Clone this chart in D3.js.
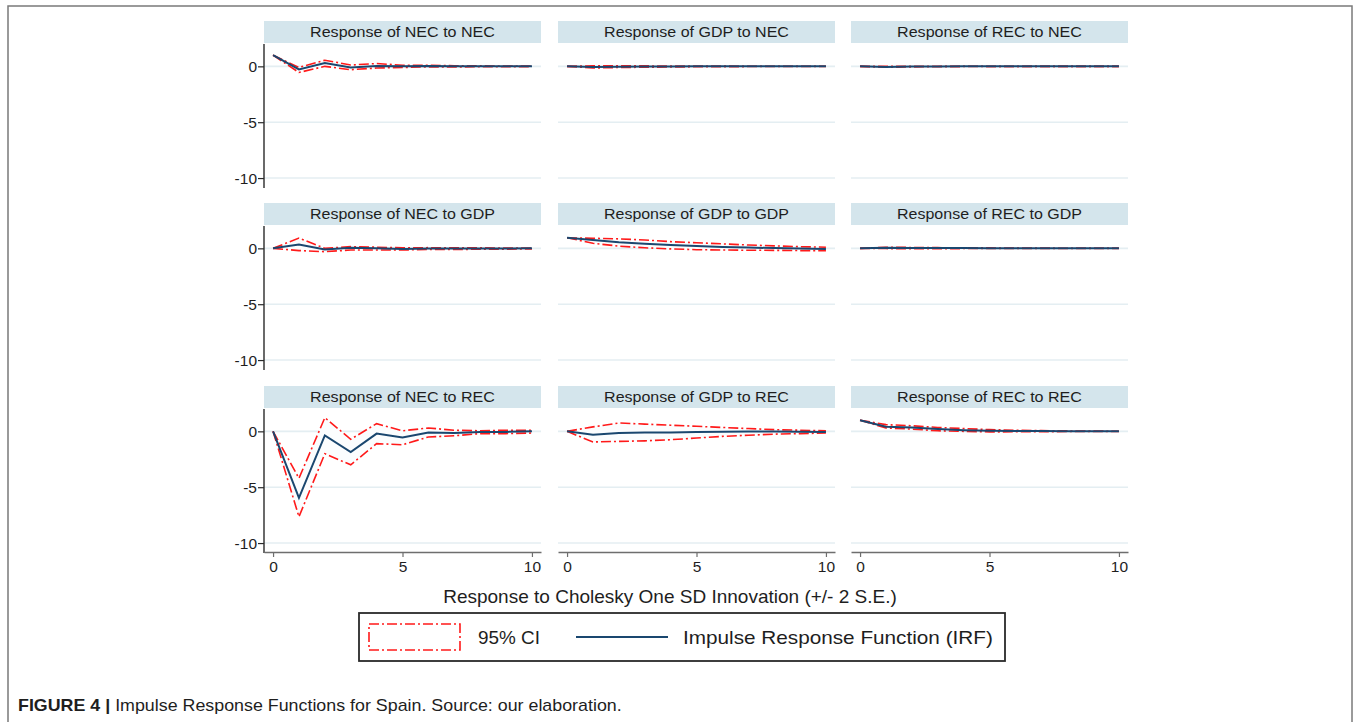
<!DOCTYPE html>
<html>
<head>
<meta charset="utf-8">
<script src="https://cdn.jsdelivr.net/npm/d3@7"></script>
<style>
  body { margin: 0; background: #fff; }
  svg { display: block; font-family: "Liberation Sans", Arial, sans-serif; }
</style>
</head>
<body>
<script>
// horizon (periods after the shock)
const periods = [0, 1, 2, 3, 4, 5, 6, 7, 8, 9, 10];
const shocks = ["NEC", "GDP", "REC"];     // rows: impulse
const responses = ["NEC", "GDP", "REC"];  // columns: response
const yTicks = [0, -5, -10];
const xTicks = [0, 5, 10];

// row 1 : shock NEC
const irfNecNec = [1.0, -0.28, 0.3, -0.1, 0.02, 0.0, 0.03, 0.0, 0.0, 0.0, 0.0];
const hiNecNec  = [1.0, -0.1, 0.55, 0.12, 0.25, 0.1, 0.1, 0.05, 0.04, 0.03, 0.02];
const loNecNec  = [1.0, -0.55, 0.0, -0.3, -0.15, -0.1, -0.05, -0.05, -0.04, -0.03, -0.02];
const irfGdpNec = [0.0, -0.05, -0.03, -0.02, -0.01, 0.0, 0.0, 0.0, 0.0, 0.0, 0.0];
const hiGdpNec  = [0.0, 0.05, 0.04, 0.04, 0.03, 0.02, 0.02, 0.01, 0.01, 0.01, 0.01];
const loGdpNec  = [0.0, -0.15, -0.1, -0.08, -0.05, -0.04, -0.03, -0.02, -0.02, -0.01, -0.01];
const irfRecNec = [0.0, -0.05, -0.02, -0.01, 0.0, 0.0, 0.0, 0.0, 0.0, 0.0, 0.0];
const hiRecNec  = [0.0, 0.0, 0.01, 0.01, 0.01, 0.0, 0.0, 0.0, 0.0, 0.0, 0.0];
const loRecNec  = [0.0, -0.08, -0.05, -0.03, -0.02, -0.01, -0.01, 0.0, 0.0, 0.0, 0.0];

// row 2 : shock GDP
const irfNecGdp = [0.0, 0.35, -0.1, 0.05, 0.0, -0.05, -0.02, -0.02, -0.01, -0.01, 0.0];
const hiNecGdp  = [0.0, 0.92, 0.0, 0.15, 0.1, 0.05, 0.06, 0.04, 0.04, 0.03, 0.03];
const loNecGdp  = [0.0, -0.2, -0.3, -0.15, -0.15, -0.15, -0.1, -0.1, -0.08, -0.07, -0.05];
const irfGdpGdp = [0.95, 0.75, 0.55, 0.42, 0.3, 0.2, 0.13, 0.07, 0.02, -0.02, -0.05];
const hiGdpGdp  = [0.95, 0.9, 0.85, 0.75, 0.6, 0.5, 0.4, 0.3, 0.22, 0.15, 0.1];
const loGdpGdp  = [0.95, 0.45, 0.2, 0.05, -0.05, -0.12, -0.15, -0.17, -0.18, -0.2, -0.2];
const irfRecGdp = [0.0, 0.05, 0.03, 0.02, 0.02, 0.01, 0.01, 0.0, 0.0, 0.0, 0.0];
const hiRecGdp  = [0.0, 0.1, 0.08, 0.06, 0.05, 0.04, 0.03, 0.02, 0.01, 0.01, 0.01];
const loRecGdp  = [0.0, -0.02, -0.03, -0.03, -0.02, -0.02, -0.01, -0.01, -0.01, 0.0, 0.0];

// row 3 : shock REC
const irfNecRec = [0.0, -5.95, -0.36, -1.85, -0.2, -0.55, -0.1, -0.15, -0.05, -0.05, 0.0];
const hiNecRec  = [0.0, -4.2, 1.22, -0.71, 0.69, 0.05, 0.3, 0.1, 0.05, 0.1, 0.1];
const loNecRec  = [0.0, -7.65, -2.0, -3.0, -1.1, -1.2, -0.5, -0.4, -0.2, -0.2, -0.15];
const irfGdpRec = [0.0, -0.3, -0.15, -0.1, -0.1, -0.05, -0.03, -0.02, -0.02, -0.03, -0.05];
const hiGdpRec  = [0.0, 0.4, 0.75, 0.65, 0.55, 0.45, 0.35, 0.25, 0.15, 0.1, 0.05];
const loGdpRec  = [0.0, -0.95, -0.9, -0.85, -0.75, -0.6, -0.45, -0.35, -0.25, -0.2, -0.15];
const irfRecRec = [1.0, 0.42, 0.35, 0.2, 0.1, 0.05, 0.03, 0.02, 0.01, 0.0, 0.0];
const hiRecRec  = [1.0, 0.6, 0.5, 0.35, 0.25, 0.15, 0.1, 0.06, 0.04, 0.02, 0.01];
const loRecRec  = [1.0, 0.3, 0.2, 0.05, 0.0, -0.05, -0.04, -0.03, -0.02, -0.02, -0.01];

const panelData = [
  [[irfNecNec, hiNecNec, loNecNec], [irfGdpNec, hiGdpNec, loGdpNec], [irfRecNec, hiRecNec, loRecNec]],
  [[irfNecGdp, hiNecGdp, loNecGdp], [irfGdpGdp, hiGdpGdp, loGdpGdp], [irfRecGdp, hiRecGdp, loRecGdp]],
  [[irfNecRec, hiNecRec, loNecRec], [irfGdpRec, hiGdpRec, loGdpRec], [irfRecRec, hiRecRec, loRecRec]]
];

const W = 1356, H = 722;
const colLeft = [264, 558, 851];
const rowTop = [44, 226, 409];   // top of each plot region (below header strip)
const panelW = 277, panelH = 143, headerH = 23;

const red = "#ff1a1a", navy = "#1a476f", gridCol = "#e4eef2";

// the source figure is a bit stretched sideways, so widen text to a target width
const fitWidth = (sel, target, anchorX) => {
  const w = sel.node().getComputedTextLength();
  const s = target / w;
  sel.attr("transform", `translate(${anchorX},0) scale(${s},1) translate(${-anchorX},0)`);
};

const svg = d3.select("body").append("svg")
  .attr("width", W)
  .attr("height", H);

// outer frame
svg.append("rect")
  .attr("x", 8).attr("y", 6)
  .attr("width", 1344).attr("height", 730)
  .attr("fill", "none")
  .attr("stroke", "#7a7a7a")
  .attr("stroke-width", 1.5);

const x = d3.scaleLinear().domain([-0.35, 10.35]).range([0, panelW]);
const y = d3.scaleLinear().domain([-10.8, 2.0]).range([panelH, 0]);

const line = d3.line().x((d, i) => x(periods[i])).y(d => y(d));
const band = d3.area()
  .x((d, i) => x(periods[i]))
  .y0(d => y(d[0]))
  .y1(d => y(d[1]));

shocks.forEach((shock, r) => {
  responses.forEach((resp, c) => {
    const [irf, hi, lo] = panelData[r][c];
    const g = svg.append("g")
      .attr("transform", `translate(${colLeft[c]},${rowTop[r]})`);

    // header strip
    g.append("rect")
      .attr("x", 0).attr("y", -headerH)
      .attr("width", panelW).attr("height", headerH - 1)
      .attr("fill", "#d4e5ec");
    const title = g.append("text")
      .attr("x", panelW / 2).attr("y", -headerH / 2 - 0.5)
      .attr("text-anchor", "middle")
      .attr("dominant-baseline", "central")
      .style("font-size", "15.5px")
      .style("fill", "#1e1e1e")
      .text(`Response of ${resp} to ${shock}`);
    fitWidth(title, 185, panelW / 2);

    // gridlines
    g.selectAll(".grid")
      .data(yTicks)
      .enter()
      .append("line")
      .attr("x1", 0).attr("x2", panelW)
      .attr("y1", d => y(d)).attr("y2", d => y(d))
      .attr("stroke", gridCol)
      .attr("stroke-width", 1.6);

    // confidence band
    g.append("path")
      .datum(lo.map((v, i) => [v, hi[i]]))
      .attr("d", band)
      .attr("fill", "#fbfdfe");

    [hi, lo].forEach(s => {
      g.append("path")
        .datum(s)
        .attr("d", line)
        .attr("fill", "none")
        .attr("stroke", red)
        .attr("stroke-width", 1.6)
        .attr("stroke-dasharray", "10,3,2,3");
    });

    g.append("path")
      .datum(irf)
      .attr("d", line)
      .attr("fill", "none")
      .attr("stroke", navy)
      .attr("stroke-width", 2);

    // y axis only on the first column
    if (c === 0) {
      const yAxis = d3.axisLeft(y).tickValues(yTicks).tickSize(6).tickFormat(d => String(d));
      const ya = g.append("g").call(yAxis);
      ya.select(".domain").remove();
      ya.append("line")
        .attr("x1", 0).attr("x2", 0)
        .attr("y1", 0).attr("y2", panelH + 1)
        .attr("stroke", "#2a2a2a").attr("stroke-width", 1.4);
      ya.selectAll(".tick line").attr("stroke", "#2a2a2a").attr("stroke-width", 1.2);
      ya.selectAll(".tick text")
        .attr("x", -7)
        .style("font-size", "15.5px")
        .style("font-family", "'Liberation Sans', Arial, sans-serif")
        .style("fill", "#1e1e1e");
    }

    // x axis only on the bottom row
    if (r === shocks.length - 1) {
      const xAxis = d3.axisBottom(x).tickValues(xTicks).tickSize(5).tickSizeOuter(0).tickFormat(d => String(d));
      const xa = g.append("g")
        .attr("transform", `translate(0,${panelH})`)
        .call(xAxis);
      xa.select(".domain").attr("stroke", "#6e6e6e").attr("stroke-width", 1.6);
      xa.selectAll(".tick line").attr("stroke", "#6e6e6e").attr("stroke-width", 1.2);
      xa.selectAll(".tick text")
        .attr("y", 9)
        .style("font-size", "15.5px")
        .style("font-family", "'Liberation Sans', Arial, sans-serif")
        .style("fill", "#1e1e1e");
    }
  });
});

// common x title
const xTitle = svg.append("text")
  .attr("x", 670).attr("y", 603)
  .attr("text-anchor", "middle")
  .style("font-size", "18px")
  .style("fill", "#1e1e1e")
  .text("Response to Cholesky One SD Innovation (+/- 2 S.E.)");
fitWidth(xTitle, 454, 670);

// legend
const lg = svg.append("g");
lg.append("rect")
  .attr("x", 359).attr("y", 613)
  .attr("width", 646).attr("height", 48)
  .attr("fill", "#fff")
  .attr("stroke", "#2a2a2a")
  .attr("stroke-width", 1.8);
lg.append("rect")
  .attr("x", 369).attr("y", 624)
  .attr("width", 91).attr("height", 26)
  .attr("fill", "#fff")
  .attr("stroke", red)
  .attr("stroke-width", 1.6)
  .attr("stroke-dasharray", "10,3,2,3");
const ciText = lg.append("text")
  .attr("x", 478).attr("y", 644)
  .style("font-size", "18px")
  .style("fill", "#1e1e1e")
  .text("95% CI");
fitWidth(ciText, 62, 478);
lg.append("line")
  .attr("x1", 576).attr("x2", 668)
  .attr("y1", 637).attr("y2", 637)
  .attr("stroke", navy)
  .attr("stroke-width", 2.2);
const irfText = lg.append("text")
  .attr("x", 683).attr("y", 644)
  .style("font-size", "18px")
  .style("fill", "#1e1e1e")
  .text("Impulse Response Function (IRF)");
fitWidth(irfText, 310, 683);

// caption
const cap = svg.append("text")
  .attr("x", 18).attr("y", 711)
  .style("font-size", "16px")
  .style("fill", "#1e1e1e");
cap.append("tspan").style("font-weight", "bold").text("FIGURE 4 | ");
cap.append("tspan").text("Impulse Response Functions for Spain. Source: our elaboration.");
fitWidth(cap, 604, 18);
</script>
</body>
</html>
